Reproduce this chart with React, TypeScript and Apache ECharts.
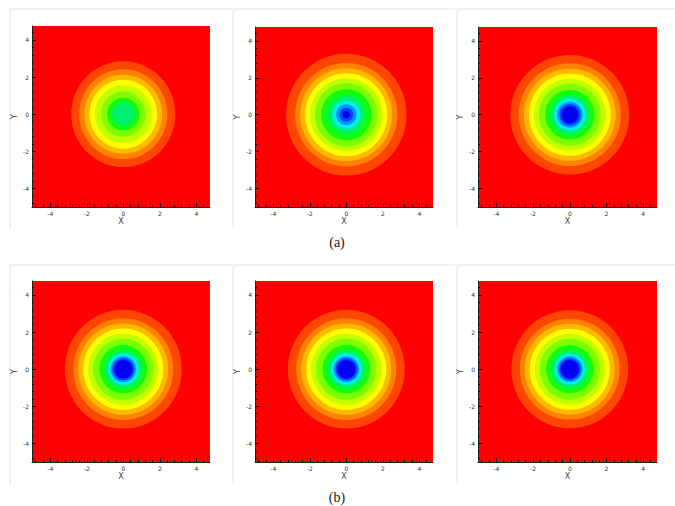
import React, { useEffect, useRef } from "react";
import * as echarts from "echarts";

// ---- data ----
const AXIS_MIN = -5;
const AXIS_MAX = 4.75;
const tickLabels = [-4, -2, 0, 2, 4];
const minorTicks = [-4.8, -4.4, -3.6, -3.2, -2.8, -2.4, -1.6, -1.2, -0.8, -0.4, 0.4, 0.8, 1.2, 1.6, 2.4, 2.8, 3.2, 3.6, 4.4];

// contour band outer radii (level 1 = outermost band inside the red background)
const radiiA1 = [2.85, 2.42, 2.13, 1.85, 1.56, 1.22, 0.88, 0.62];
const radiiA2 = [3.3, 2.8, 2.52, 2.25, 1.98, 1.72, 1.38, 1.02, 0.76, 0.56, 0.38, 0.2];
const radiiA3 = [3.24, 2.78, 2.5, 2.23, 1.95, 1.68, 1.34, 1.05, 0.86, 0.7, 0.58, 0.46];
const radiiB1 = [3.2, 2.74, 2.46, 2.19, 1.92, 1.65, 1.3, 1.02, 0.84, 0.7, 0.6, 0.5];
const radiiB2 = [3.2, 2.74, 2.46, 2.19, 1.92, 1.65, 1.3, 1.02, 0.84, 0.7, 0.6, 0.5];
const radiiB3 = [3.18, 2.72, 2.45, 2.18, 1.91, 1.64, 1.29, 1.01, 0.83, 0.69, 0.59, 0.49];
const panels = [radiiA1, radiiA2, radiiA3, radiiB1, radiiB2, radiiB3];
const captions = ["(a)", "(b)"];

// ---- styles / layout ----
const levelColors = [
  "#FF4600", "#FF8200", "#FFB800", "#FFFF00", "#C4FF00", "#7CFF00",
  "#10FF10", "#00F070", "#00F0F0", "#0096FF", "#0044FF", "#0000F0",
];
const gridBoxes = [
  { left: 32, top: 26, width: 178, height: 181 },
  { left: 255, top: 27, width: 178, height: 180 },
  { left: 478, top: 27, width: 179, height: 180 },
  { left: 32, top: 281, width: 178, height: 181 },
  { left: 255, top: 281, width: 178, height: 181 },
  { left: 478, top: 281, width: 179, height: 181 },
];
const frames = [
  { x: 10, y: 9 }, { x: 233, y: 9 }, { x: 457, y: 9 },
  { x: 10, y: 265 }, { x: 233, y: 265 }, { x: 457, y: 265 },
];

export default function App() {
  const ref = useRef<HTMLDivElement>(null);
  useEffect(() => {
    if (!ref.current) return;
    const chart = echarts.init(ref.current, null, { renderer: "svg" });
    const grid: any[] = [];
    const xAxis: any[] = [];
    const yAxis: any[] = [];
    const series: any[] = [];
    const labelStyle = { fontSize: 6, color: "#333", fontFamily: "DejaVu Sans" };
    panels.forEach((radii, i) => {
      grid.push({ ...gridBoxes[i], show: true, backgroundColor: "#FF0000", borderWidth: 0 });
      const major = (dim: "x" | "y") => ({
        type: "value",
        gridIndex: i,
        min: AXIS_MIN,
        max: AXIS_MAX,
        name: dim === "x" ? "X" : "Y",
        nameLocation: "middle",
        nameGap: dim === "x" ? 10 : 14,
        nameTextStyle: { fontSize: 8, color: "#444", fontFamily: "DejaVu Sans" },
        axisLine: { show: true, onZero: false, lineStyle: { color: "#222", width: 1 } },
        axisTick: { show: true, inside: true, length: 4, customValues: tickLabels, lineStyle: { color: "#111" } },
        axisLabel: { show: true, margin: 3, customValues: tickLabels, ...labelStyle },
        splitLine: { show: false },
      });
      const minor = () => ({
        type: "value",
        gridIndex: i,
        min: AXIS_MIN,
        max: AXIS_MAX,
        axisLine: { show: false, onZero: false },
        axisTick: { show: true, inside: true, length: 2, customValues: minorTicks, lineStyle: { color: "#111" } },
        axisLabel: { show: false },
        splitLine: { show: false },
      });
      xAxis.push({ ...major("x"), position: "bottom" });
      xAxis.push({ ...minor(), position: "bottom" });
      yAxis.push({ ...major("y"), position: "left" });
      yAxis.push({ ...minor(), position: "left" });
      series.push({
        type: "custom",
        xAxisIndex: 2 * i,
        yAxisIndex: 2 * i,
        clip: true,
        silent: true,
        z: 1,
        data: radii.map((r, k) => [r, k]),
        renderItem: (_p: any, api: any) => {
          const r = api.value(0);
          const lvl = api.value(1);
          const c = api.coord([0, 0]);
          const s = api.size([r, r]);
          return {
            type: "ellipse",
            shape: { cx: c[0], cy: c[1], rx: s[0], ry: s[1] },
            style: { fill: levelColors[lvl], stroke: null },
          };
        },
      });
    });
    const graphic: any[] = [];
    frames.forEach((f) => {
      graphic.push({ type: "line", shape: { x1: f.x, y1: f.y, x2: f.x + 222, y2: f.y }, style: { stroke: "#e2e2e2", lineWidth: 1 } });
      graphic.push({ type: "line", shape: { x1: f.x, y1: f.y, x2: f.x, y2: f.y + 219 }, style: { stroke: "#e2e2e2", lineWidth: 1 } });
    });
    graphic.push({ type: "text", x: 337, y: 242, style: { text: captions[0], fill: "#222", fontSize: 14, fontFamily: "Liberation Serif", textAlign: "center", textVerticalAlign: "middle" } });
    graphic.push({ type: "text", x: 337, y: 497, style: { text: captions[1], fill: "#222", fontSize: 14, fontFamily: "Liberation Serif", textAlign: "center", textVerticalAlign: "middle" } });

    chart.setOption({
      animation: false,
      backgroundColor: "#ffffff",
      grid,
      xAxis,
      yAxis,
      series,
      graphic,
    });
    return () => chart.dispose();
  }, []);
  return <div ref={ref} style={{ position: "fixed", left: 0, top: 0, width: 675, height: 506 }} />;
}
